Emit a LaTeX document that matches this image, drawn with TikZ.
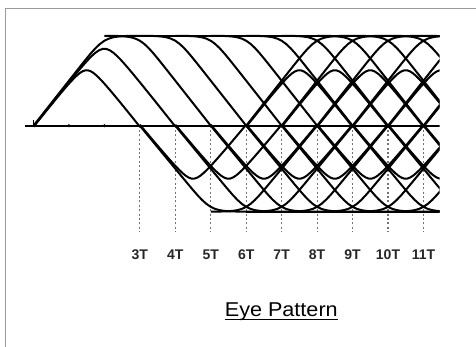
\documentclass[tikz,border=0pt]{standalone}
\usepackage{fontspec}
\setmainfont{Liberation Sans}
\begin{document}
\begin{tikzpicture}[x=1pt,y=-1pt,
  declare function={
    sm(\ua,\ub)=(\ua+\ub)/2-sqrt(((\ua-\ub)/2)^2+0.0177);
    cl(\vv)=min(\vv,1.8)/(1+(min(\vv,1.8)*min(\vv,1.8))^6)^(1/12);
  },
  tr/.style={line width=2pt, black, line join=round},
  dotline/.style={line width=1.1pt, black!55, dash pattern=on 2pt off 2.4pt},
  lab/.style={inner sep=0pt, anchor=base, text=black!85, font=\bfseries\fontsize{14}{14}\selectfont},
  frame/.style={line width=0.9pt, black!40}]
\def\Xo{33.5}
\def\Tt{35.45}
\def\Yo{125.7}
\def\Au{90}
\def\Ad{86}
\useasboundingbox (0,0) rectangle (476,347);
% frame
\draw[frame] (5,347) -- (5,8.3) -- (476,8.3);
% dotted verticals and labels
\foreach \n in {3,...,11}{
  \draw[dotline] (\Xo+\n*\Tt,\Yo) -- (\Xo+\n*\Tt,232);
  \node[lab] (l\n) at (\Xo+\n*\Tt,259) {\n T};
}
\begin{scope}
\clip (0,0) rectangle (439.5,240);
% baseline, plateaus
\draw[tr] (25,\Yo) -- (440,\Yo);
\draw[tr] (\Xo+3*\Tt,\Yo-\Au) -- (440,\Yo-\Au);
\draw[tr] (\Xo+6*\Tt,\Yo+\Ad) -- (440,\Yo+\Ad);
% first pulses: 3T and 4T humps
\foreach \m in {3,4}{
  \draw[tr] plot[domain=0:\m, samples=40]
    ({\Xo+\Tt*\x},{\Yo-\Au*cl(sm(0.5*\x,0.5*(\m-\x)))});
}
% 3T humps in the lattice and rises to the top
\foreach \a in {0,6,7,8,9,10,11}{
  \ifnum\a>0
    \pgfmathsetmacro\bb{\a+3}
    \draw[tr] plot[domain=\a:\bb, samples=36]
      ({\Xo+\Tt*\x},{\Yo-\Au*cl(sm(0.5*(\x-\a),0.5*(\bb-\x)))});
  \fi
  \pgfmathsetmacro\bb{\a+3}
  \draw[tr] plot[domain=\a:\bb, samples=25]
      ({\Xo+\Tt*\x},{\Yo-\Au*cl(0.5*(\x-\a))});
}
% falls from the top
\foreach \b in {5,...,14}{
  \pgfmathsetmacro\aa{\b-3}
  \draw[tr] plot[domain=\aa:\b, samples=25]
      ({\Xo+\Tt*\x},{\Yo-\Au*cl(0.5*(\b-\x))});
}
% 3T troughs and falls to the bottom
\foreach \b in {3,...,11}{
  \pgfmathsetmacro\cc{\b+3}
  \draw[tr] plot[domain=\b:\cc, samples=36]
    ({\Xo+\Tt*\x},{\Yo+\Ad*cl(sm(0.5*(\x-\b),0.5*(\cc-\x)))});
  \draw[tr] plot[domain=\b:\cc, samples=25]
      ({\Xo+\Tt*\x},{\Yo+\Ad*cl(0.5*(\x-\b))});
}
% rises from the bottom
\foreach \c in {8,...,14}{
  \pgfmathsetmacro\aa{\c-3}
  \draw[tr] plot[domain=\aa:\c, samples=25]
      ({\Xo+\Tt*\x},{\Yo+\Ad*cl(0.5*(\c-\x))});
}
\end{scope}
% start tick and baseline dots
\draw[line width=1.2pt] (\Xo,\Yo) -- (\Xo,\Yo-6);
\fill (\Xo+\Tt,\Yo) circle (1.7);
\fill (\Xo+2*\Tt,\Yo) circle (1.7);
% title
\node[inner sep=0pt, anchor=base, font=\fontsize{20}{20}\selectfont] (title) at (281.3,316.7) {\scalebox{1.08}[1]{Eye Pattern}};
\draw[line width=1pt] ([yshift=-3.2pt]title.base west) -- ([yshift=-3.2pt]title.base east);
\end{tikzpicture}
\end{document}
